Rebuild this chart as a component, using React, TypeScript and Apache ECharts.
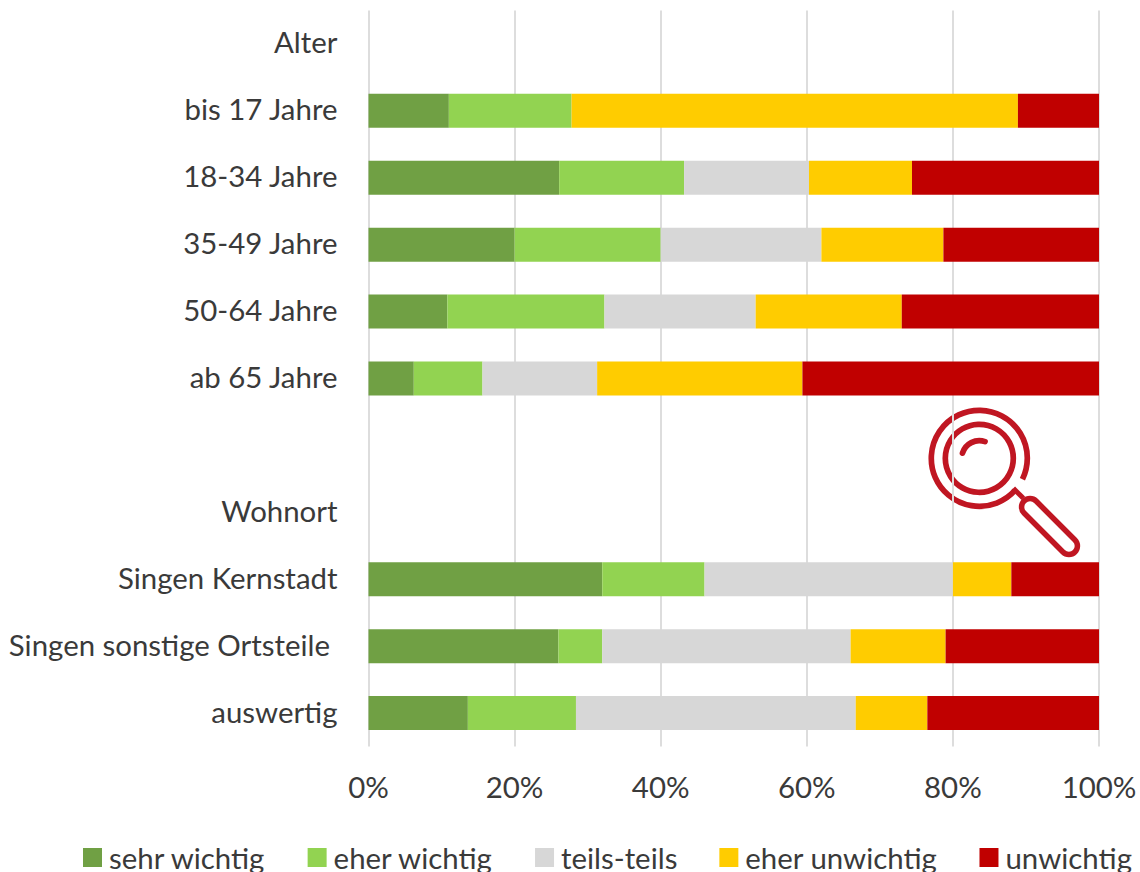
import React, { useEffect, useRef } from "react";
import * as echarts from "echarts";

const categories = ["Alter", "bis 17 Jahre", "18-34 Jahre", "35-49 Jahre", "50-64 Jahre", "ab 65 Jahre", "", "Wohnort", "Singen Kernstadt", "Singen sonstige Ortsteile ", "auswertig"];
const sehrWichtig = [null, 11, 26.1, 20, 10.8, 6.2, null, null, 32, 26, 13.6];
const eherWichtig = [null, 16.8, 17.1, 20, 21.5, 9.4, null, null, 14, 6, 14.8];
const teilsTeils = [null, 0, 17.1, 22, 20.7, 15.7, null, null, 34, 34, 38.3];
const eherUnwichtig = [null, 61.1, 14.1, 16.7, 20, 28.1, null, null, 8, 13, 9.8];
const unwichtig = [null, 11.1, 25.6, 21.3, 27, 40.6, null, null, 12, 21, 23.5];
const seriesNames = ["sehr wichtig", "eher wichtig", "teils-teils", "eher unwichtig", "unwichtig"];
const seriesValues = [sehrWichtig, eherWichtig, teilsTeils, eherUnwichtig, unwichtig];
const seriesColors = ["#70a044", "#92d351", "#d7d7d7", "#ffcc00", "#c00000"];

const FONT = "Lato";
const TEXT = "#3a3a3a";
const RED = "#c01622";
const deg = (d: number) => (d * Math.PI) / 180;

export default function App() {
  const ref = useRef<HTMLDivElement>(null);
  useEffect(() => {
    document.body.style.margin = "0";
    const chart = echarts.init(ref.current!, null, { renderer: "svg" });
    const arc = (cx: number, cy: number, r: number, a0: number, a1: number, cap: string) => ({
      type: "arc",
      shape: { cx, cy, r, startAngle: deg(a0), endAngle: deg(a1), clockwise: true },
      style: { stroke: RED, lineWidth: 5.7, fill: "none", lineCap: cap },
      silent: true,
    });
    chart.setOption({
      animation: false,
      textStyle: { fontFamily: FONT },
      grid: { left: 368.5, right: 41, top: 10.5, bottom: 125.5 },
      xAxis: {
        type: "value",
        min: 0,
        max: 100,
        interval: 20,
        axisLine: { show: false },
        axisTick: { show: false },
        splitLine: { lineStyle: { color: "#dddddd", width: 2 } },
        axisLabel: { formatter: "{value}%", fontFamily: FONT, fontSize: 29.4, color: TEXT, margin: 25 },
      },
      yAxis: {
        type: "category",
        inverse: true,
        data: categories,
        axisLine: { show: false },
        axisTick: { show: false },
        axisLabel: { fontFamily: FONT, fontSize: 29.4, color: TEXT, margin: 31, interval: 0, verticalAlign: "bottom", lineHeight: 4 },
      },
      legend: {
        left: 83,
        top: 843,
        padding: 0,
        icon: "rect",
        itemWidth: 19,
        itemHeight: 19,
        itemGap: 42,
        textStyle: { fontFamily: FONT, fontSize: 29.4, color: TEXT, padding: [0, 0, 0, 2] },
        data: seriesNames,
      },
      series: seriesNames.map((name, i) => ({
        name,
        type: "bar",
        stack: "total",
        barWidth: 34,
        itemStyle: { color: seriesColors[i] },
        data: seriesValues[i],
      })),
      graphic: [
        arc(979.3, 458.3, 48, 42, 386, "butt"),
        { type: "circle", shape: { cx: 979.3, cy: 458.3, r: 34 }, style: { stroke: RED, lineWidth: 5.7, fill: "none" }, silent: true },
        arc(979.3, 458.3, 17.6, 197, 289, "round"),
        { type: "line", shape: { x1: 1013.3, y1: 488.3, x2: 1023.3, y2: 498.3 }, style: { stroke: RED, lineWidth: 5 }, silent: true },
        {
          type: "rect",
          x: 1049.5,
          y: 526.5,
          originX: 0,
          originY: 0,
          rotation: -Math.PI / 4,
          shape: { x: -36, y: -8.5, width: 72, height: 17, r: 8.5 },
          style: { stroke: RED, lineWidth: 5.5, fill: "#ffffff" },
          silent: true,
        },
      ],
    });
    return () => chart.dispose();
  }, []);
  return <div ref={ref} style={{ width: 1140, height: 872 }} />;
}
